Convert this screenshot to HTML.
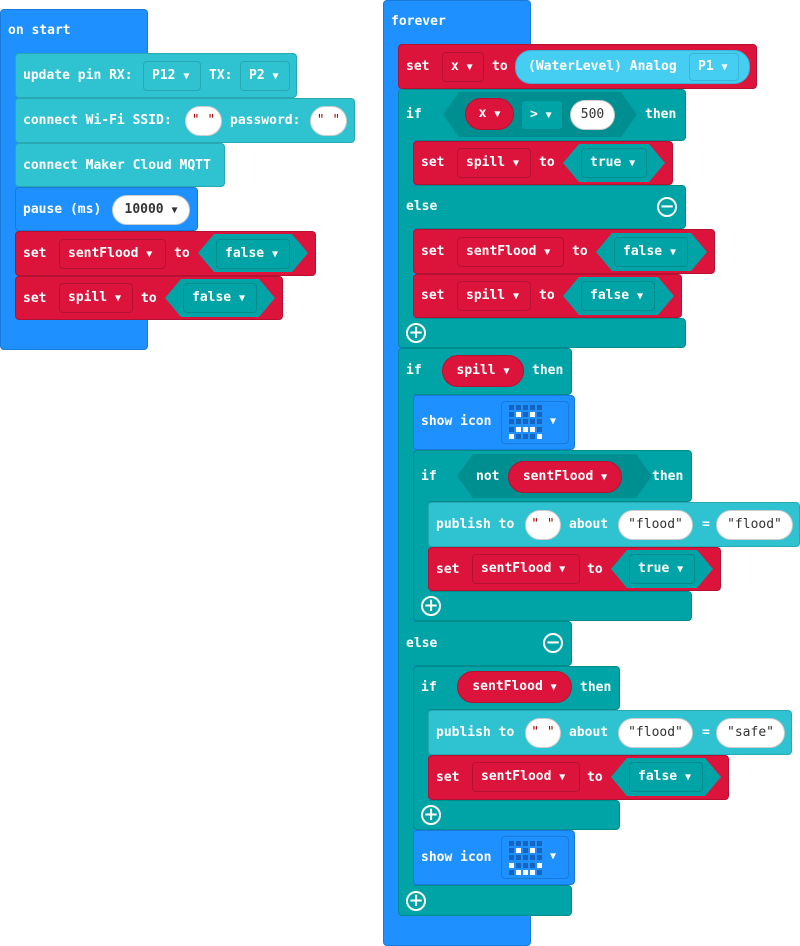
<!DOCTYPE html>
<html><head><meta charset="utf-8"><style>
*{margin:0;padding:0;box-sizing:border-box}
body{width:800px;height:946px;background:#fff;position:relative;overflow:hidden;font:bold 13px "DejaVu Sans Mono","Liberation Mono",monospace;color:#fff}
div,span{position:absolute}
.B{background:#1e90ff;border:1px solid #1a7ad8}
.T{background:#00a4a6;border:1px solid #008b8d}
.R{background:#dc143c;border:1px solid #b51233}
.L{background:#2fc3d1;border:1px solid #28a8b3}
.b{border-radius:4px}
.t{white-space:pre;line-height:16px;height:16px}
.dd{height:30px;border-radius:4px;line-height:28px;padding-left:8px;white-space:pre}
.dR{border:1px solid #b51233;background:#dc143c}
.dT{border:1px solid #008b8d;background:#00a4a6}
.dL{border:1px solid #28a8b3;background:#2fc3d1}
.pill{height:32px;border-radius:16px;line-height:30px;white-space:pre;text-align:center}
.ov{background:#fff;color:#333;border:1px solid #ccc;height:30px;border-radius:15px;line-height:28px;text-align:center;white-space:pre;font-weight:normal}
.hx{background:#00a4a6;clip-path:polygon(16px 0,calc(100% - 16px) 0,100% 50%,calc(100% - 16px) 100%,16px 100%,0 50%)}
.hxd{background:#008f91}
.ar{font-size:10px}
.c{width:20px;height:20px;border:2px solid #fff;border-radius:50%;display:flex;align-items:center;justify-content:center;font:bold 18px "DejaVu Sans",sans-serif;line-height:1}
.ic{width:68px;height:43px;border:1px solid #1a7ad8;border-radius:4px;background:#1e90ff}
.g{width:5px;height:5px;background:#1565c0}
.w{background:#fff}
</style></head><body>

<!-- on start -->
<div class="B b" style="left:0px;top:9px;width:148px;height:341px"></div>
<span class="t" style="left:8px;top:23px">on start</span>
<div class="L b" style="left:15px;top:53px;width:282px;height:45px"></div>
<span class="t" style="left:23px;top:68px">update pin RX:</span>
<div class="dd dL" style="left:143px;top:61px;width:58px">P12 <span class="ar" style="position:static">▼</span></div>
<span class="t" style="left:209px;top:68px">TX:</span>
<div class="dd dL" style="left:240px;top:61px;width:50px">P2 <span class="ar" style="position:static">▼</span></div>
<div class="L b" style="left:15px;top:98px;width:340px;height:45px"></div>
<span class="t" style="left:23px;top:113px">connect Wi-Fi SSID:</span>
<div class="ov" style="left:185px;top:106px;width:37px;color:#a00">" "</div>
<span class="t" style="left:230px;top:113px">password:</span>
<div class="ov" style="left:310px;top:106px;width:37px;color:#a00">" "</div>
<div class="L b" style="left:15px;top:143px;width:210px;height:44px"></div>
<span class="t" style="left:23px;top:158px">connect Maker Cloud MQTT</span>
<div class="B b" style="left:15px;top:187px;width:183px;height:44px"></div>
<span class="t" style="left:23px;top:202px">pause (ms)</span>
<div class="ov" style="left:112px;top:195px;width:78px;font-weight:bold">10000 <span class="ar" style="position:static">▼</span></div>
<div class="R b" style="left:15px;top:231px;width:301px;height:45px"></div>
<span class="t" style="left:23px;top:246px">set</span>
<div class="dd dR" style="left:59px;top:239px;width:107px">sentFlood <span class="ar" style="position:static">▼</span></div>
<span class="t" style="left:174px;top:246px">to</span>
<div class="hx" style="left:198px;top:234px;width:110px;height:38px"></div>
<div class="dd dT" style="left:216px;top:239px;width:74px">false <span class="ar" style="position:static">▼</span></div>
<div class="R b" style="left:15px;top:276px;width:268px;height:44px"></div>
<span class="t" style="left:23px;top:291px">set</span>
<div class="dd dR" style="left:59px;top:283px;width:74px">spill <span class="ar" style="position:static">▼</span></div>
<span class="t" style="left:141px;top:291px">to</span>
<div class="hx" style="left:165px;top:279px;width:110px;height:38px"></div>
<div class="dd dT" style="left:183px;top:283px;width:74px">false <span class="ar" style="position:static">▼</span></div>

<!-- forever -->
<div class="B b" style="left:383px;top:0px;width:148px;height:946px"></div>
<span class="t" style="left:391px;top:14px">forever</span>
<div class="R b" style="left:398px;top:44px;width:359px;height:45px"></div>
<span class="t" style="left:406px;top:59px">set</span>
<div class="dd dR" style="left:442px;top:52px;width:42px">x <span class="ar" style="position:static">▼</span></div>
<span class="t" style="left:492px;top:59px">to</span>
<div class="pill" style="left:515px;top:50px;width:235px;height:34px;background:#46cdf2;border:1px solid #3ab4d6;text-align:left;padding-left:12px;line-height:32px">(WaterLevel) Analog</div>
<div class="dd" style="left:689px;top:53px;width:50px;height:28px;line-height:26px;background:#46cdf2;border:1px solid #3ab4d6">P1 <span class="ar" style="position:static">▼</span></div>

<!-- if x>500 -->
<div class="T b" style="left:398px;top:89px;width:288px;height:52px"></div>
<div class="T b" style="left:398px;top:185px;width:288px;height:44px"></div>
<div class="T b" style="left:398px;top:318px;width:288px;height:30px"></div>
<div class="T" style="left:398px;top:130px;width:16px;height:200px;border:none;border-left:1px solid #008b8d"></div>
<span class="t" style="left:406px;top:107px">if</span>
<div class="hx hxd" style="left:443px;top:92px;width:194px;height:45px"></div>
<div class="pill R" style="left:465px;top:98px;width:49px">x <span class="ar" style="position:static">▼</span></div>
<div class="dd dT" style="left:521px;top:100px;width:42px">&gt; <span class="ar" style="position:static">▼</span></div>
<div class="ov" style="left:570px;top:100px;width:45px">500</div>
<span class="t" style="left:645px;top:107px">then</span>
<div class="R b" style="left:413px;top:141px;width:260px;height:44px"></div>
<span class="t" style="left:421px;top:155px">set</span>
<div class="dd dR" style="left:457px;top:148px;width:74px">spill <span class="ar" style="position:static">▼</span></div>
<span class="t" style="left:539px;top:155px">to</span>
<div class="hx" style="left:563px;top:144px;width:102px;height:38px"></div>
<div class="dd dT" style="left:581px;top:148px;width:66px">true <span class="ar" style="position:static">▼</span></div>
<span class="t" style="left:406px;top:199px">else</span>
<div class="c" style="left:657px;top:197px">−</div>
<div class="R b" style="left:413px;top:229px;width:302px;height:45px"></div>
<span class="t" style="left:421px;top:244px">set</span>
<div class="dd dR" style="left:457px;top:237px;width:107px">sentFlood <span class="ar" style="position:static">▼</span></div>
<span class="t" style="left:572px;top:244px">to</span>
<div class="hx" style="left:596px;top:233px;width:111px;height:38px"></div>
<div class="dd dT" style="left:614px;top:237px;width:74px">false <span class="ar" style="position:static">▼</span></div>
<div class="R b" style="left:413px;top:274px;width:269px;height:44px"></div>
<span class="t" style="left:421px;top:288px">set</span>
<div class="dd dR" style="left:457px;top:281px;width:74px">spill <span class="ar" style="position:static">▼</span></div>
<span class="t" style="left:539px;top:288px">to</span>
<div class="hx" style="left:563px;top:277px;width:111px;height:38px"></div>
<div class="dd dT" style="left:581px;top:281px;width:74px">false <span class="ar" style="position:static">▼</span></div>
<div class="c" style="left:406px;top:323px">+</div>

<!-- if spill -->
<div class="T b" style="left:398px;top:348px;width:174px;height:47px"></div>
<div class="T b" style="left:398px;top:621px;width:174px;height:45px"></div>
<div class="T b" style="left:398px;top:885px;width:174px;height:31px"></div>
<div class="T" style="left:398px;top:390px;width:16px;height:510px;border:none;border-left:1px solid #008b8d"></div>
<span class="t" style="left:406px;top:363px">if</span>
<div class="pill R" style="left:442px;top:355px;width:82px">spill <span class="ar" style="position:static">▼</span></div>
<span class="t" style="left:532px;top:363px">then</span>
<div class="B b" style="left:413px;top:395px;width:162px;height:55px"></div>
<span class="t" style="left:421px;top:414px">show icon</span>
<div class="ic" style="left:501px;top:401px"><div class="ar" style="left:48px;top:14px">▼</div></div>

<!-- if not sentFlood -->
<div class="T b" style="left:413px;top:450px;width:279px;height:52px"></div>
<div class="T b" style="left:413px;top:591px;width:279px;height:30px"></div>
<div class="T" style="left:413px;top:495px;width:16px;height:105px;border:none;border-left:1px solid #008b8d"></div>
<span class="t" style="left:421px;top:469px">if</span>
<div class="hx hxd" style="left:457px;top:454px;width:195px;height:44px"></div>
<span class="t" style="left:476px;top:469px">not</span>
<div class="pill R" style="left:508px;top:461px;width:114px">sentFlood <span class="ar" style="position:static">▼</span></div>
<span class="t" style="left:652px;top:469px">then</span>
<div class="L b" style="left:428px;top:502px;width:372px;height:45px"></div>
<span class="t" style="left:436px;top:517px">publish to</span>
<div class="ov" style="left:525px;top:510px;width:36px;color:#a00">" "</div>
<span class="t" style="left:569px;top:517px">about</span>
<div class="ov" style="left:618px;top:510px;width:75px">"flood"</div>
<span class="t" style="left:702px;top:517px">=</span>
<div class="ov" style="left:716px;top:510px;width:77px">"flood"</div>
<div class="R b" style="left:428px;top:547px;width:293px;height:44px"></div>
<span class="t" style="left:436px;top:562px">set</span>
<div class="dd dR" style="left:472px;top:554px;width:108px">sentFlood <span class="ar" style="position:static">▼</span></div>
<span class="t" style="left:587px;top:562px">to</span>
<div class="hx" style="left:611px;top:550px;width:102px;height:38px"></div>
<div class="dd dT" style="left:629px;top:554px;width:66px">true <span class="ar" style="position:static">▼</span></div>
<div class="c" style="left:421px;top:596px">+</div>

<span class="t" style="left:406px;top:636px">else</span>
<div class="c" style="left:543px;top:633px">−</div>

<!-- if sentFlood -->
<div class="T b" style="left:413px;top:666px;width:207px;height:44px"></div>
<div class="T b" style="left:413px;top:800px;width:207px;height:30px"></div>
<div class="T" style="left:413px;top:703px;width:16px;height:105px;border:none;border-left:1px solid #008b8d"></div>
<span class="t" style="left:421px;top:680px">if</span>
<div class="pill R" style="left:457px;top:671px;width:115px">sentFlood <span class="ar" style="position:static">▼</span></div>
<span class="t" style="left:580px;top:680px">then</span>
<div class="L b" style="left:428px;top:710px;width:364px;height:45px"></div>
<span class="t" style="left:436px;top:725px">publish to</span>
<div class="ov" style="left:525px;top:718px;width:36px;color:#a00">" "</div>
<span class="t" style="left:569px;top:725px">about</span>
<div class="ov" style="left:618px;top:718px;width:75px">"flood"</div>
<span class="t" style="left:702px;top:725px">=</span>
<div class="ov" style="left:716px;top:718px;width:69px">"safe"</div>
<div class="R b" style="left:428px;top:755px;width:301px;height:45px"></div>
<span class="t" style="left:436px;top:770px">set</span>
<div class="dd dR" style="left:472px;top:762px;width:108px">sentFlood <span class="ar" style="position:static">▼</span></div>
<span class="t" style="left:587px;top:770px">to</span>
<div class="hx" style="left:611px;top:758px;width:110px;height:38px"></div>
<div class="dd dT" style="left:629px;top:762px;width:74px">false <span class="ar" style="position:static">▼</span></div>
<div class="c" style="left:421px;top:805px">+</div>

<div class="B b" style="left:413px;top:830px;width:162px;height:55px"></div>
<span class="t" style="left:421px;top:850px">show icon</span>
<div class="ic" style="left:501px;top:836px"><div class="ar" style="left:48px;top:14px">▼</div></div>
<div class="c" style="left:406px;top:891px">+</div>

<!-- icon grids -->
<div style="left:509px;top:405px;width:34px;height:34px;display:grid;grid-template-columns:repeat(5,5px);gap:2px">
<i class="g" style="position:static;display:block"></i><i class="g" style="position:static;display:block"></i><i class="g" style="position:static;display:block"></i><i class="g" style="position:static;display:block"></i><i class="g" style="position:static;display:block"></i>
<i class="g" style="position:static;display:block"></i><i class="g w" style="position:static;display:block"></i><i class="g" style="position:static;display:block"></i><i class="g w" style="position:static;display:block"></i><i class="g" style="position:static;display:block"></i>
<i class="g" style="position:static;display:block"></i><i class="g" style="position:static;display:block"></i><i class="g" style="position:static;display:block"></i><i class="g" style="position:static;display:block"></i><i class="g" style="position:static;display:block"></i>
<i class="g" style="position:static;display:block"></i><i class="g w" style="position:static;display:block"></i><i class="g w" style="position:static;display:block"></i><i class="g w" style="position:static;display:block"></i><i class="g" style="position:static;display:block"></i>
<i class="g w" style="position:static;display:block"></i><i class="g" style="position:static;display:block"></i><i class="g" style="position:static;display:block"></i><i class="g" style="position:static;display:block"></i><i class="g w" style="position:static;display:block"></i>
</div>
<div style="left:509px;top:841px;width:34px;height:34px;display:grid;grid-template-columns:repeat(5,5px);gap:2px">
<i class="g" style="position:static;display:block"></i><i class="g" style="position:static;display:block"></i><i class="g" style="position:static;display:block"></i><i class="g" style="position:static;display:block"></i><i class="g" style="position:static;display:block"></i>
<i class="g" style="position:static;display:block"></i><i class="g w" style="position:static;display:block"></i><i class="g" style="position:static;display:block"></i><i class="g w" style="position:static;display:block"></i><i class="g" style="position:static;display:block"></i>
<i class="g" style="position:static;display:block"></i><i class="g" style="position:static;display:block"></i><i class="g" style="position:static;display:block"></i><i class="g" style="position:static;display:block"></i><i class="g" style="position:static;display:block"></i>
<i class="g w" style="position:static;display:block"></i><i class="g" style="position:static;display:block"></i><i class="g" style="position:static;display:block"></i><i class="g" style="position:static;display:block"></i><i class="g w" style="position:static;display:block"></i>
<i class="g" style="position:static;display:block"></i><i class="g w" style="position:static;display:block"></i><i class="g w" style="position:static;display:block"></i><i class="g w" style="position:static;display:block"></i><i class="g" style="position:static;display:block"></i>
</div>
</body></html>
